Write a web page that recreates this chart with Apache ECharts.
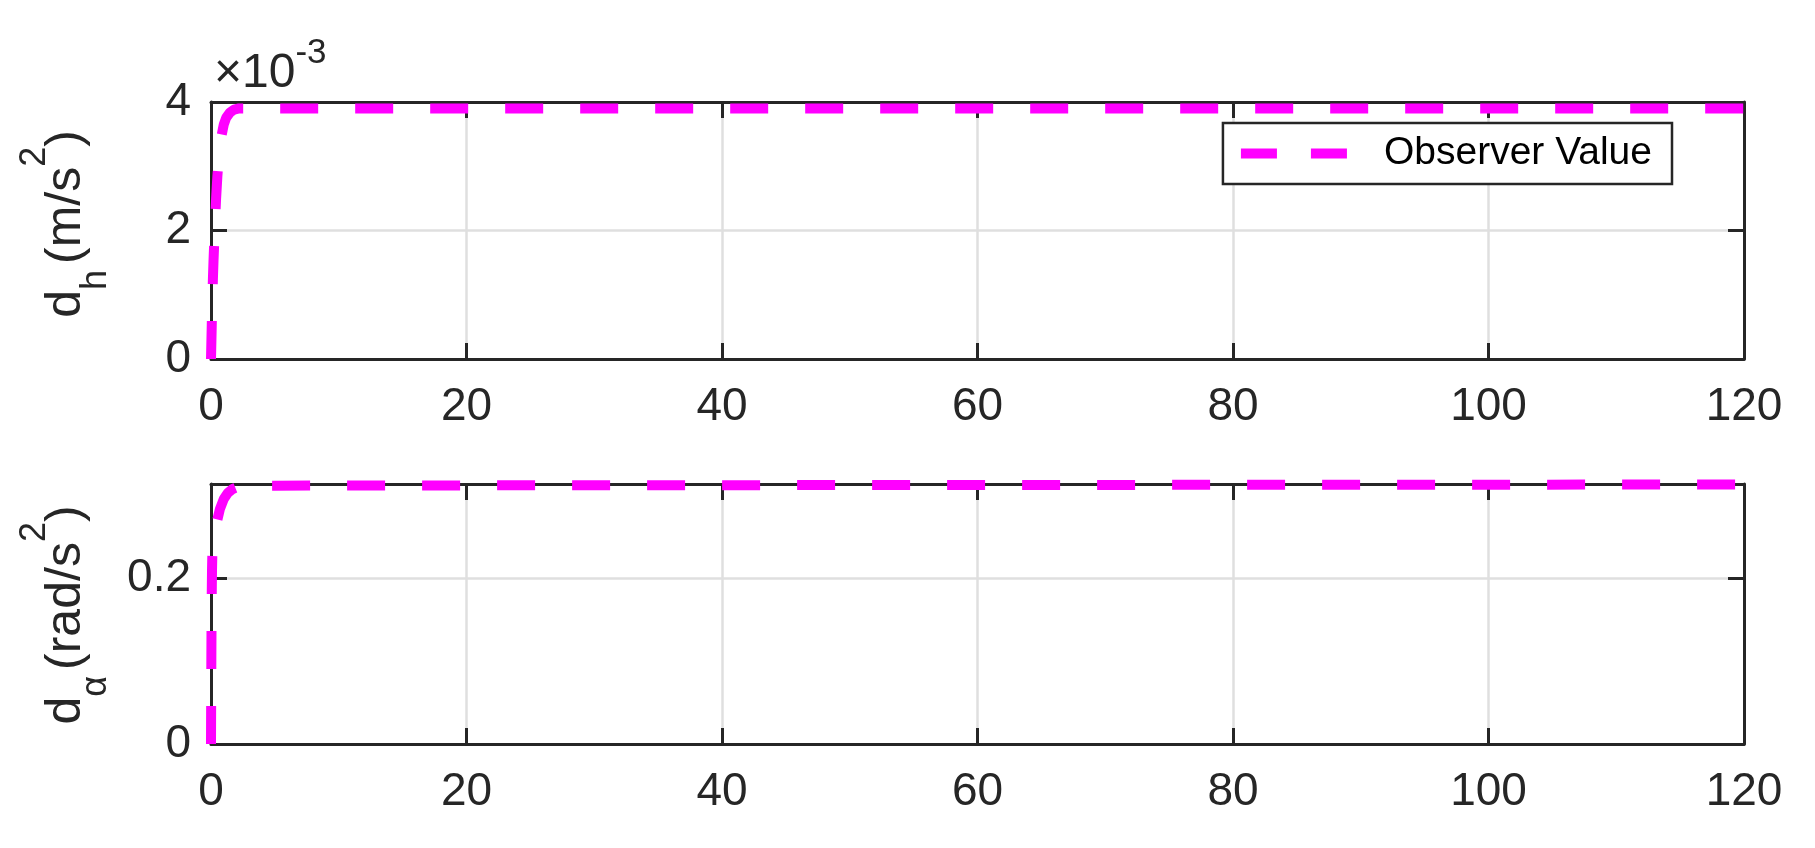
<!DOCTYPE html>
<html>
<head>
<meta charset="utf-8">
<script src="https://cdn.jsdelivr.net/npm/echarts@6/dist/echarts.min.js"></script>
<style>
html,body{margin:0;padding:0;background:#fff;}
#chart{width:1815px;height:848px;}
</style>
</head>
<body>
<div id="chart"></div>
<script>
// ---- data ----
const seriesName = 'Observer Value';
const xTicks = [0, 20, 40, 60, 80, 100, 120];
// top panel: d_h (m/s^2)
const tTop = [0, 0.05, 0.1, 0.15, 0.2, 0.3, 0.4, 0.5, 0.6, 0.7, 0.85, 1.0, 1.2, 1.5, 1.8, 2.2, 3, 5, 10, 60, 120];
const dhValues = [0, 0.00045, 0.0009, 0.00125, 0.00155, 0.00205, 0.0025, 0.00285, 0.0031, 0.00335, 0.0035, 0.00365, 0.00376, 0.00384, 0.00388, 0.0039, 0.0039, 0.0039, 0.0039, 0.0039, 0.0039];
const topYTicks = [0, 0.002, 0.004];
// bottom panel: d_alpha (rad/s^2)
const tBottom = [0, 0.02, 0.05, 0.08, 0.1, 0.15, 0.2, 0.3, 0.4, 0.5, 0.7, 1.0, 1.3, 1.7, 2.2, 3, 5, 10, 30, 60, 90, 120];
const daValues = [0, 0.08, 0.17, 0.21, 0.225, 0.24, 0.25, 0.255, 0.262, 0.27, 0.283, 0.295, 0.302, 0.307, 0.31, 0.311, 0.311, 0.3112, 0.3115, 0.3118, 0.3121, 0.3124];
const bottomYTicks = [0, 0.2];
const bottomYMax = 0.313;

const FONT = '"Liberation Sans", Arial, Helvetica, sans-serif';
const AX = '#262626';
const GRIDC = '#dfdfdf';
const MAG = '#ff00ff';

const chart = echarts.init(document.getElementById('chart'), null, {renderer: 'canvas'});

function xAx(gridIndex, pos, showLabels) {
  return {
    type: 'value', gridIndex: gridIndex, position: pos, min: 0, max: 120, interval: 20,
    axisLine: {show: true, onZero: false, lineStyle: {color: AX, width: 3}},
    axisTick: {show: true, inside: true, length: 16, lineStyle: {color: AX, width: 3}},
    axisLabel: {show: showLabels, color: AX, fontSize: 46, fontFamily: FONT, margin: 25,
      formatter: v => xTicks.indexOf(v) >= 0 ? String(v) : ''},
    splitLine: {show: showLabels, lineStyle: {color: GRIDC, width: 2.5}}
  };
}
function yAx(gridIndex, pos, showLabels, max, interval, fmt, ticks) {
  return {
    type: 'value', gridIndex: gridIndex, position: pos, min: 0, max: max, interval: interval,
    axisLine: {show: true, onZero: false, lineStyle: {color: AX, width: 3}},
    axisTick: {show: true, inside: true, length: 16, lineStyle: {color: AX, width: 3}},
    axisLabel: {show: showLabels, color: AX, fontSize: 46, fontFamily: FONT, margin: 20,
      formatter: v => {
        const ok = ticks.some(t => Math.abs(t - v) < 1e-9);
        return ok ? fmt(v) : '';
      }},
    splitLine: {show: showLabels, lineStyle: {color: GRIDC, width: 2.5}}
  };
}

const lineStyle = {color: MAG, width: 10, type: [38, 37], cap: 'butt'};

const labelRich = {
  n: {fontSize: 50, lineHeight: 97, verticalAlign: 'middle', fill: AX, fontFamily: FONT},
  s: {fontSize: 36, lineHeight: 36, verticalAlign: 'bottom', fill: AX, fontFamily: FONT, padding: [0, 6, 0, 0]},
  p: {fontSize: 36, lineHeight: 52, verticalAlign: 'top', fill: AX, fontFamily: FONT}
};

const option = {
  backgroundColor: '#fff',
  animation: false,
  grid: [
    {left: 211, right: 71, top: 102, height: 257},
    {left: 211, right: 71, top: 484, height: 260}
  ],
  xAxis: [
    xAx(0, 'bottom', true), xAx(0, 'top', false),
    xAx(1, 'bottom', true), xAx(1, 'top', false)
  ],
  yAxis: [
    yAx(0, 'left', true, 0.004, 0.002, v => String(Math.round(v * 1000)), topYTicks),
    yAx(0, 'right', false, 0.004, 0.002, v => '', topYTicks),
    yAx(1, 'left', true, bottomYMax, 0.2, v => String(Math.round(v * 10) / 10), bottomYTicks),
    yAx(1, 'right', false, bottomYMax, 0.2, v => '', bottomYTicks)
  ],
  legend: {
    data: [seriesName],
    right: 143, top: 123,
    orient: 'horizontal',
    itemWidth: 106, itemHeight: 10,
    padding: [8, 20, 8, 13],
    backgroundColor: '#fff',
    borderColor: AX, borderWidth: 2.5, borderRadius: 0,
    textStyle: {color: '#000', fontSize: 39, fontFamily: FONT, lineHeight: 45, padding: [0, 0, 0, 32]},
    lineStyle: {color: MAG, width: 10, type: [36, 34]},
    itemStyle: {opacity: 0}
  },
  series: [
    {
      name: seriesName, type: 'line', xAxisIndex: 0, yAxisIndex: 0,
      data: tTop.map((t, i) => [t, dhValues[i]]),
      showSymbol: false, symbol: 'none', clip: false, lineStyle: lineStyle, itemStyle: {color: MAG}
    },
    {
      name: seriesName, type: 'line', xAxisIndex: 2, yAxisIndex: 2,
      data: tBottom.map((t, i) => [t, daValues[i]]),
      showSymbol: false, symbol: 'none', clip: false, lineStyle: lineStyle, itemStyle: {color: MAG}
    }
  ],
  graphic: [
    {
      type: 'text', x: 66, y: 224, rotation: Math.PI / 2,
      style: {
        text: '{n|d}{s|h}{n|(m/s}{p|2}{n|)}',
        align: 'center', verticalAlign: 'middle', fill: AX, fontFamily: FONT,
        rich: labelRich
      }
    },
    {
      type: 'text', x: 66, y: 615, rotation: Math.PI / 2,
      style: {
        text: '{n|d}{s|α}{n|(rad/s}{p|2}{n|)}',
        align: 'center', verticalAlign: 'middle', fill: AX, fontFamily: FONT,
        rich: labelRich
      }
    },
    {
      type: 'text', x: 214, y: 74,
      style: {
        text: '{n|×10}{p|-3}',
        align: 'left', verticalAlign: 'middle', fill: AX, fontFamily: FONT,
        rich: {
          n: {fontSize: 48, lineHeight: 76, verticalAlign: 'middle', fill: AX, fontFamily: FONT},
          p: {fontSize: 35, lineHeight: 35, verticalAlign: 'top', fill: AX, fontFamily: FONT}
        }
      }
    }
  ]
};
chart.setOption(option);
</script>
</body>
</html>
